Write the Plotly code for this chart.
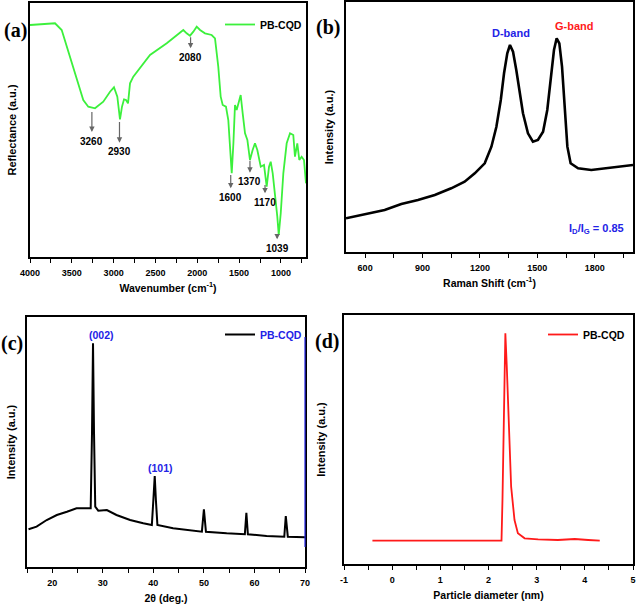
import plotly.graph_objects as go

W, H = 638, 606

# ---------------- data ----------------
ftir_wavenumber = [4000, 3701, 3621, 3522, 3442, 3363, 3303, 3223, 3124, 3043,
                   2996, 2956, 2924, 2900, 2876, 2852, 2828, 2804, 2765, 2565,
                   2365, 2246, 2167, 2127, 2087, 2047, 2007, 1967, 1908, 1828,
                   1788, 1749, 1720, 1696, 1657, 1629, 1609, 1588, 1568, 1549,
                   1529, 1509, 1481, 1457, 1429, 1401, 1370, 1338, 1310, 1282,
                   1241, 1202, 1170, 1142, 1122, 1098, 1070, 1043, 1026, 1002,
                   971, 931, 891, 852, 832, 804, 780, 752, 724, 700]
ftir_reflectance = [232, 233.7, 227, 200.3, 177, 157, 150.3, 148.7, 155.3, 165.3,
                    169.7, 160.3, 137.7, 150.3, 157.7, 157, 153.7, 173.7, 180.3, 202,
                    213.7, 222, 227, 223.7, 221.3, 225.3, 230.3, 227, 223.7, 222,
                    218.7, 190.3, 160.3, 152, 150.3, 137, 107, 83.7, 113.7, 152,
                    147, 153.7, 162, 143.7, 123.7, 117, 97, 107, 113.7, 107,
                    90.3, 92, 70.3, 90.3, 95.3, 83.7, 63.7, 40.3, 22, 43.7,
                    83.7, 113.7, 123.7, 122, 100.3, 113.7, 97, 100.3, 97, 73.7]
ftir_peaks = [3260, 2930, 2080, 1600, 1370, 1170, 1039]
ftir_peak_x = [3260, 2930, 2080, 1600, 1370, 1190, 1045]
ftir_arrow_tail = [145, 135, 219.7, 82, 96.3, 72, 21]
ftir_label_y = [116, 105.3, 199.7, 59.7, 75.3, 54.7, 8.7]

raman_shift = [500, 615, 702, 789, 876, 964, 1050, 1120, 1173, 1225,
               1260, 1286, 1309, 1326, 1343, 1357, 1373, 1390, 1408, 1425,
               1451, 1477, 1503, 1530, 1552, 1570, 1587, 1601, 1615, 1629,
               1643, 1657, 1674, 1713, 1782, 1869, 1939, 2000]
raman_intensity = [33.7, 38.7, 42, 48, 52, 57, 63.7, 70.3, 78.7, 88.7,
                   105.3, 125.3, 152, 178.7, 198.7, 207, 200.3, 182, 158.7, 138.7,
                   118.7, 110.3, 112, 120.3, 142, 175.3, 202, 213.7, 208.7, 185.3,
                   142, 105.3, 88.7, 83.7, 82, 83.7, 85.3, 87]

xrd_2theta = [15.3, 16.9, 18.9, 20.9, 22.9, 24.8, 26.5, 27.6, 27.86, 28.06,
              28.26, 28.5, 29.1, 30.8, 32.7, 35.4, 38.0, 39.7, 40.0, 40.27,
              40.5, 40.8, 43.9, 47.9, 49.6, 50.0, 50.4, 54.5, 58.1, 58.4,
              58.7, 62.4, 65.9, 66.2, 66.6, 70]
xrd_intensity = [37.7, 40.3, 47, 52, 55.3, 58.7, 58.7, 58.7, 133.7, 223.7,
                 133.7, 60.3, 56.3, 57, 52, 47, 43.7, 42, 67, 91,
                 67, 42, 38.7, 36.3, 35.3, 57.7, 35.3, 33.7, 32.7, 54.3,
                 32.7, 31, 30.3, 51, 30.3, 29.7]

dls_diameter = [-0.41, 2.27, 2.29, 2.32, 2.35, 2.38, 2.43, 2.47, 2.54, 2.61,
                2.75, 3.03, 3.44, 3.79, 4.07, 4.31]
dls_intensity = [23.3, 23.3, 64, 164, 230.7, 197.3, 130.7, 77.3, 44, 30.7,
                 25.7, 24.7, 24, 25, 24, 23.3]
dls_tickvals = [-1, 0, 1, 2, 3, 4, 5]
dls_ticktext = ["-1", "0", "1", "2", "3", "4", "5"]

# ---------------- layout helpers ----------------
def dx(a, b):
    return [a / W, b / W]

def dy(top, bottom):
    return [1 - bottom / H, 1 - top / H]

SANS = "Liberation Sans"
SERIF = "Liberation Serif"
BLUE = "#2323e6"
RED = "#ff1a1a"
GREEN = "#3cf03c"

fig = go.Figure()
fig.add_trace(go.Scatter(x=ftir_wavenumber, y=ftir_reflectance, mode="lines",
                         line=dict(color=GREEN, width=1.8), name="PB-CQD",
                         xaxis="x", yaxis="y", legend="legend"))
fig.add_trace(go.Scatter(x=raman_shift, y=raman_intensity, mode="lines",
                         line=dict(color="black", width=2.6), name="Raman",
                         showlegend=False, xaxis="x2", yaxis="y2"))
fig.add_trace(go.Scatter(x=xrd_2theta, y=xrd_intensity, mode="lines",
                         line=dict(color="black", width=2.0), name="PB-CQD",
                         xaxis="x3", yaxis="y3", legend="legend2"))
fig.add_trace(go.Scatter(x=dls_diameter, y=dls_intensity, mode="lines",
                         line=dict(color=RED, width=1.8), name="PB-CQD",
                         xaxis="x4", yaxis="y4", legend="legend3"))

def xax(domain, rng, dtick, mdtick, title, anchor):
    return dict(domain=domain, range=rng, dtick=dtick, anchor=anchor, automargin=False,
                showline=True, linecolor="black", linewidth=1.5, mirror=True,
                ticks="outside", ticklen=4, tickwidth=1.3, tickcolor="black",
                ticklabelstandoff=2,
                minor=dict(ticks="outside", ticklen=4, tickwidth=1.3, tickcolor="black", dtick=mdtick),
                showgrid=False, zeroline=False,
                tickfont=dict(family=SANS, size=9, color="black", weight="bold"),
                title=dict(text=title, font=dict(family=SANS, size=10.5, color="black", weight="bold"),
                           standoff=8))

def yax(domain, rng, title, anchor, standoff):
    return dict(domain=domain, range=rng, anchor=anchor, automargin=False,
                showline=True, linecolor="black", linewidth=1.5, mirror=True,
                ticks="", showticklabels=False, showgrid=False, zeroline=False,
                title=dict(text=title, font=dict(family=SANS, size=11, color="black", weight="bold"),
                           standoff=standoff))

LEG = dict(bgcolor="rgba(0,0,0,0)", itemwidth=30, xanchor="left", yanchor="top")

fig.update_layout(
    width=W, height=H, margin=dict(l=0, r=0, t=0, b=0, autoexpand=False),
    paper_bgcolor="white", plot_bgcolor="white",
    font=dict(family=SANS, color="black"),
    xaxis=xax(dx(30, 306), [4000, 700], 500, 250, "Wavenumber (cm<sup>-1</sup>)", "y"),
    yaxis=yax(dy(3, 257), [0, 254], "Reflectance (a.u.)", "x", 9),
    xaxis2=xax(dx(346, 633), [500, 2000], 300, 150, "Raman Shift (cm<sup>-1</sup>)", "y2"),
    yaxis2=yax(dy(2, 252), [0, 250], "Intensity (a.u.)", "x2", 8),
    xaxis3=xax(dx(27, 305), [15, 70], 10, 5, "2θ (deg.)", "y3"),
    yaxis3=yax(dy(317, 567), [0, 250], "Intensity (a.u.)", "x3", 7),
    xaxis4=xax(dx(344, 633), [-1, 5], 1, 0.5, "Particle diameter (nm)", "y4"),
    yaxis4=yax(dy(315, 564), [0, 249], "Intensity (a.u.)", "x4", 14),
    legend=dict(LEG, x=220 / W, y=1 - 10 / H,
                font=dict(family=SANS, size=10.5, color="black", weight="bold")),
    legend2=dict(LEG, x=220 / W, y=1 - 320 / H,
                 font=dict(family=SANS, size=10.5, color=BLUE, weight="bold")),
    legend3=dict(LEG, x=543 / W, y=1 - 320 / H,
                 font=dict(family=SANS, size=10.5, color="black", weight="bold")),
)
fig.update_layout(xaxis4=dict(tickvals=dls_tickvals, ticktext=dls_ticktext, dtick=None))

ann = []
# FTIR labels with arrows pointing down from the curve to the label
for p, px_, tail, ly in zip(ftir_peaks, ftir_peak_x, ftir_arrow_tail, ftir_label_y):
    ann.append(dict(x=px_, y=tail, ax=px_, ay=ly, xref="x", yref="y", axref="x", ayref="y",
                    text=str(p), showarrow=True, arrowside="start", arrowhead=2,
                    startarrowhead=2, startarrowsize=0.9, arrowsize=0.9, arrowwidth=1.2,
                    arrowcolor="#666666", startstandoff=2, standoff=0,
                    font=dict(family=SANS, size=10, color="black", weight="bold")))

# Raman labels
ann.append(dict(x=1362, y=219, xref="x2", yref="y2", text="D-band", showarrow=False,
                font=dict(family=SANS, size=11, color=BLUE, weight="bold")))
ann.append(dict(x=1695, y=226, xref="x2", yref="y2", text="G-band", showarrow=False,
                font=dict(family=SANS, size=11, color=RED, weight="bold")))
ann.append(dict(x=1808, y=22.7, xref="x2", yref="y2",
                text="I<sub>D</sub>/I<sub>G</sub> = 0.85", showarrow=False,
                font=dict(family=SANS, size=11, color=BLUE, weight="bold")))

# XRD labels
ann.append(dict(x=29.8, y=232, xref="x3", yref="y3", text="(002)", showarrow=False,
                font=dict(family=SANS, size=10.5, color=BLUE, weight="bold")))
ann.append(dict(x=41.5, y=99.3, xref="x3", yref="y3", text="(101)", showarrow=False,
                font=dict(family=SANS, size=10.5, color=BLUE, weight="bold")))

# panel letters
for t, px, py in [("(a)", 15, 30), ("(b)", 328, 27), ("(c)", 12, 343), ("(d)", 327, 342)]:
    ann.append(dict(x=px / W, y=1 - py / H, xref="paper", yref="paper", text=t,
                    showarrow=False, xanchor="center", yanchor="middle",
                    font=dict(family=SERIF, size=20, color="black", weight="bold")))

fig.update_layout(annotations=ann)

# blue right border segment of panel (c)
fig.add_shape(type="line", xref="x3 domain", yref="y3 domain", x0=1, x1=1, y0=0.08, y1=0.92,
              line=dict(color=BLUE, width=1.2))

fig.write_html("out.html", config={"displayModeBar": False},
               post_script="document.body.style.margin='0px';")
